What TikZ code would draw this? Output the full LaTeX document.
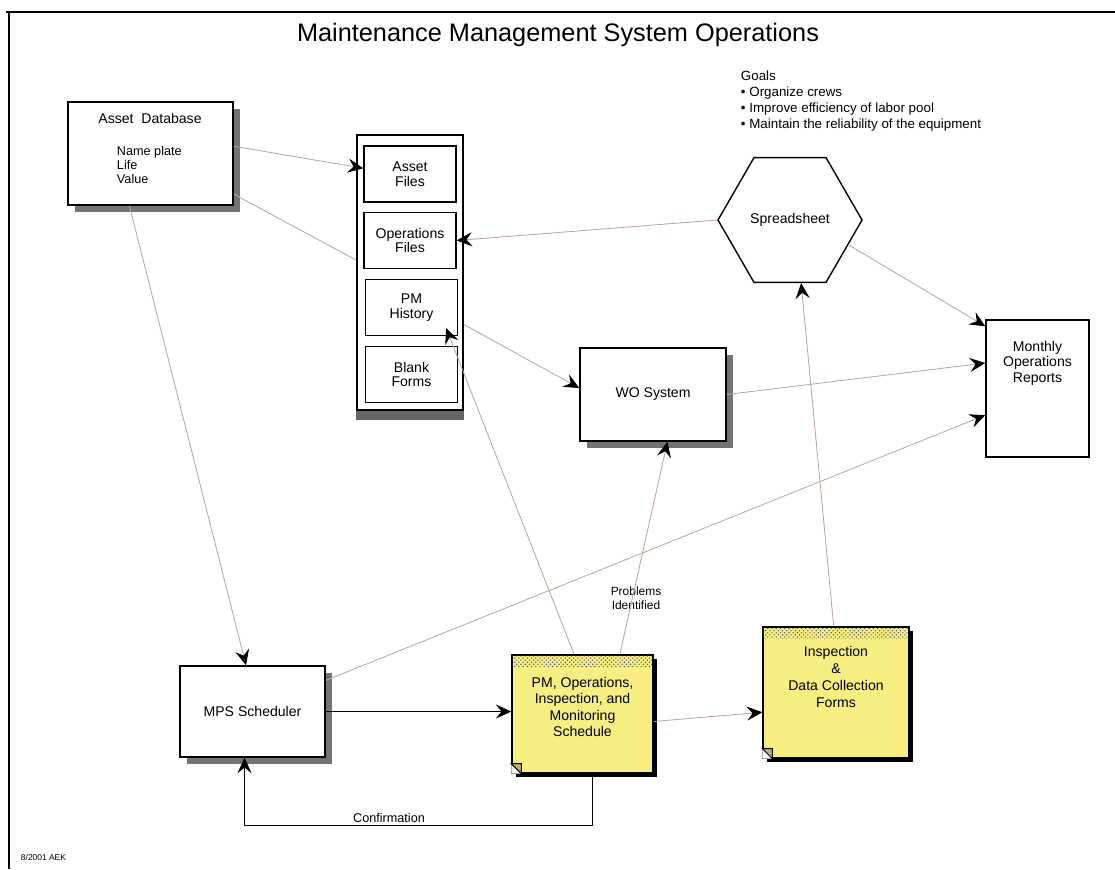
\documentclass[tikz,border=0pt]{standalone}
\usepackage{fontspec}
\setmainfont{Liberation Sans}
\usetikzlibrary{arrows.meta,calc,shapes.geometric,shadows,patterns}

\definecolor{linec}{RGB}{190,165,155}
\definecolor{notey}{RGB}{246,238,128}

\tikzset{
  box/.style={draw,line width=1pt,fill=white,align=center,inner sep=0pt,
    drop shadow={shadow xshift=0.17cm,shadow yshift=-0.17cm,fill=black!55,opacity=1}},
  filebox/.style={draw,line width=0.9pt,fill=white,align=center,inner sep=0pt,
    minimum width=2.3cm,minimum height=1.4cm},
  note/.style={draw,line width=0.9pt,fill=notey,inner sep=0pt,
    drop shadow={shadow xshift=0.09cm,shadow yshift=-0.09cm,fill=black,opacity=1}},
  conn/.style={draw=linec,line width=0.6pt,-{Stealth[length=11pt,width=10pt,inset=4pt,color=black]}},
  link/.style={draw=linec,line width=0.6pt},
  darr/.style={draw=black,line width=1pt,-{Stealth[length=11pt,width=10pt,inset=4pt]}}
}

\begin{document}
\begin{tikzpicture}[x=0.025cm,y=-0.025cm,font=\fontsize{10}{10.5}\selectfont]
\useasboundingbox (0,0) rectangle (1115,869);

% frame
\draw[line width=1.3pt] (6,12) -- (1115,12);
\draw[line width=1pt] (9,12) -- (9,869);

\node[font=\fontsize{18}{20}\selectfont] (title) at (558,35) {Maintenance Management System Operations};
\node[anchor=north west,align=left,font=\fontsize{9.5}{11.4}\selectfont] (goals) at (736,66)
  {Goals\\\textbullet\ Organize crews\\\textbullet\ Improve efficiency of labor pool\\\textbullet\ Maintain the reliability of the equipment};

% asset database
\node[box,minimum width=4.125cm,minimum height=2.575cm] (adb) at (150.5,153.5) {};
\node (adbname) at (150,118) {Asset\ \ Database};
\node[anchor=west,align=left,font=\fontsize{9}{10}\selectfont] (adbfields) at (112,165) {Name plate\\Life\\Value};

% file cabinet
\node[draw,line width=1pt,fill=white,minimum width=2.65cm,minimum height=6.875cm] (cab) at (410,272.5) {};
\fill[black!60] (cab.south west) rectangle ($(cab.south east)+(0,9)$);
\node[filebox] (af) at (410,174) {Asset\\Files};
\node[filebox] (of) at (410,240.5) {Operations\\Files};
\node[filebox] (pmh) at (411.5,307.5) {PM\\History};
\node[filebox] (bf) at (411.5,374.5) {Blank\\Forms};

\node[regular polygon,regular polygon sides=6,draw,line width=1pt,fill=white,
  minimum size=3.6cm,inner sep=0pt] (ss) at (790,220) {Spreadsheet};

\node[box,minimum width=3.65cm,minimum height=2.325cm] (wo) at (653,394.5) {WO System};
\node[draw,line width=1pt,fill=white,minimum width=2.575cm,minimum height=3.425cm,
  label={[align=center,anchor=north,yshift=-0.425cm,font=\fontsize{10}{11}\selectfont]north:{Monthly\\Operations\\Reports}}] (mor) at (1037.5,388.5) {};

\node[box,minimum width=3.625cm,minimum height=2.275cm] (mps) at (252.5,711.5) {MPS Scheduler};

% schedule notes
\node[note,minimum width=3.525cm,minimum height=2.95cm,
  label={[align=center,anchor=north,yshift=-0.45cm,font=\fontsize{10}{11.6}\selectfont]north:{PM, Operations,\\Inspection, and\\Monitoring\\Schedule}}] (pms) at (582.5,714) {};
\node[note,minimum width=3.65cm,minimum height=3.275cm,
  label={[align=center,anchor=north,yshift=-0.375cm,font=\fontsize{10}{12}\selectfont]north:{Inspection\\\&\\Data Collection\\Forms}}] (ins) at (836,692.5) {};
\foreach \n in {pms,ins}{
  \fill[pattern=crosshatch dots,pattern color=black!70] ($(\n.north west)+(1,1)$) rectangle ($(\n.north east)+(-1,12)$);
  \fill[white] (\n.south west) -- ++(0,-10) -- ++(10,10) -- cycle;
  \filldraw[fill=notey!75!black,line width=0.7pt] ($(\n.south west)+(0,-10)$) -- ++(10,0) -- ++(0,10) -- cycle;
}

\node[align=center,font=\fontsize{8.5}{10}\selectfont] (probs) at (636,598) {Problems\\Identified};
\node[font=\fontsize{9}{10}\selectfont] (confirm) at (389,818) {Confirmation};
\node[anchor=west,font=\fontsize{6}{7}\selectfont] (stamp) at (16,857) {8/2001 AEK};

% connectors
\draw[conn] (adb.5) -- (af.173);
\draw[link] (adb.-26) -- (cab.167);
\draw[conn] (adb.-112) -- (mps.98);
\draw[conn] (ss.west) -- (of.east);
\draw[conn] (ss.-23) -- (mor.130);
\draw[conn] (wo.east) -- (mor.154);
\draw[conn] (mps.23) -- (mor.207);
\draw[conn] (cab.-44) -- (wo.175);
\draw[conn] (pms.98) -- ($(pmh.south east)+(-12,-8)$);
\draw[conn] (pms.58) -- (wo.-73);
\draw[conn] (pms.-6) -- (ins.195);
\draw[conn] (ins.92) -- (ss.-80);
\draw[darr] (mps.east) -- (mps.east -| pms.west);
\draw[darr] ($(pms.south)+(10,0)$) -- ++(0,52) -| ($(mps.south)+(-8,0)$);
\end{tikzpicture}
\end{document}
